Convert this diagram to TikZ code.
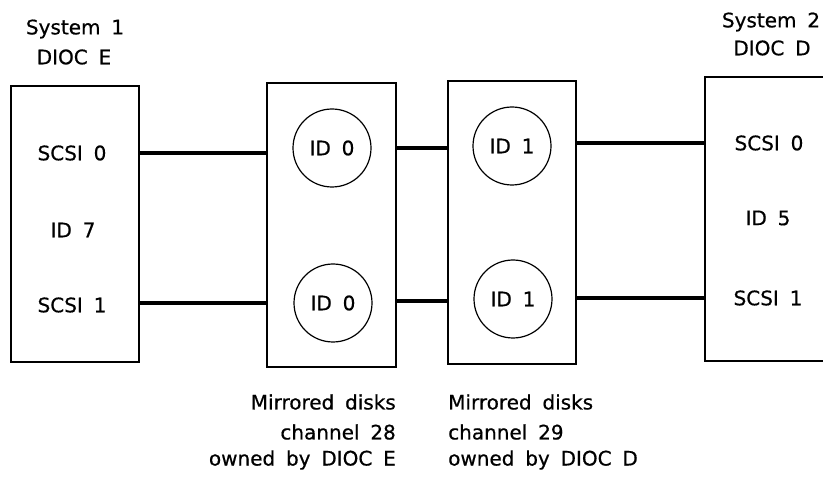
\documentclass[tikz,border=0pt]{standalone}
\usepackage{fontspec}
\setmainfont{DejaVu Sans}[WordSpace=1.7,FakeBold=0.6]
\begin{document}
\begin{tikzpicture}[x=1pt,y=-1pt,
  unit/.style={draw,line width=1.5pt,rectangle,inner sep=0pt},
  disk/.style={draw,line width=1.2pt,circle,inner sep=0pt,minimum size=78pt,font=\fontsize{20}{24}\selectfont},
  lbl/.style={inner sep=0pt,font=\fontsize{20}{24}\selectfont},
  captxt/.style={inner sep=0pt,font=\fontsize{20}{24}\selectfont},
  bus/.style={line width=3.5pt}]
\clip (0,0) rectangle (823,489);
\fill[white] (0,0) rectangle (823,489);
% units
\node[unit,minimum width=128pt,minimum height=276pt] (box1) at (75,224) {};
\node[unit,minimum width=129pt,minimum height=284pt] (box2) at (331.5,225) {};
\node[unit,minimum width=128pt,minimum height=283pt] (box3) at (512,222.5) {};
\node[unit,minimum width=135pt,minimum height=284pt] (box4) at (772.5,219) {};
% disks
\node[disk] (d1a) at (332,148) {ID 0};
\node[disk] (d1b) at (333,303) {ID 0};
\node[disk] (d2a) at (512,146) {ID 1};
\node[disk] (d2b) at (513,299) {ID 1};
\coordinate (mid) at (422,301);
% system labels
\node[lbl] (sys1) at (75,29) {System 1};
\node[lbl] (dioce) at (74,57) {DIOC E};
\node[lbl] (sys2) at (771,22) {System 2};
\node[lbl] (diocd) at (772,48) {DIOC D};
% box texts
\node[lbl] (s10) at (72,153) {SCSI 0};
\node[lbl] (id7) at (73,230) {ID 7};
\node[lbl] (s11) at (72,305) {SCSI 1};
\node[lbl] (s20) at (769,143) {SCSI 0};
\node[lbl] (id5) at (768,218) {ID 5};
\node[lbl] (s21) at (768,298) {SCSI 1};
% captions
\node[captxt,anchor=east] (m1) at (396,402) {Mirrored disks};
\node[captxt,anchor=east] (c28) at (396,432) {channel 28};
\node[captxt,anchor=east] (o1) at (396,460) {owned by DIOC E};
\node[captxt,anchor=west] (m2) at (448,402) {Mirrored disks};
\node[captxt,anchor=west] (c29) at (448,432) {channel 29};
\node[captxt,anchor=west] (o2) at (448,460) {owned by DIOC D};
% buses
\draw[bus] (box1.east |- s10) -- (box2.west |- s10);
\draw[bus] (box2.east |- d1a) -- (box3.west |- d1a);
\draw[bus] (box3.east |- s20) -- (box4.west |- s20);
\draw[bus] (box1.east |- d1b) -- (box2.west |- d1b);
\draw[bus] (box2.east |- mid) -- (box3.west |- mid);
\draw[bus] (box3.east |- s21) -- (box4.west |- s21);
\end{tikzpicture}
\end{document}
